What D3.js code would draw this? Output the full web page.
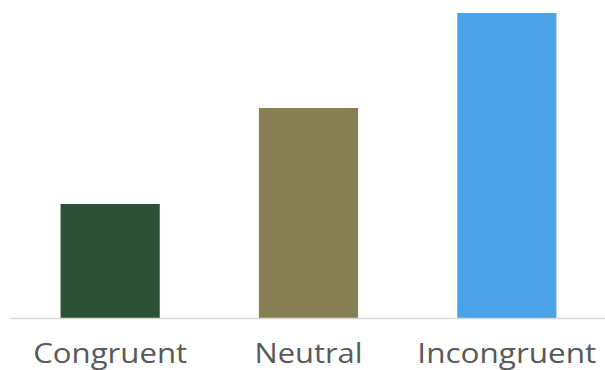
<!DOCTYPE html>
<html>
<head>
<meta charset="utf-8">
<script src="https://cdn.jsdelivr.net/npm/d3@7"></script>
<style>
  html, body { margin: 0; padding: 0; background: #ffffff; }
  svg { display: block; }
</style>
</head>
<body>
<svg id="chart" width="605" height="370"></svg>
<script>
// Conditions and their mean scores
const categories = ["Congruent", "Neutral", "Incongruent"];
const values = [114, 210, 305];
const barColors = ["#2C5136", "#878053", "#4AA2E7"];

const chartWidth = 605, chartHeight = 370;
const baselineY = 318, plotTop = 13;

const svg = d3.select("#chart");

const x = d3.scaleBand()
  .domain(categories)
  .range([11, 606])
  .paddingInner(0.5)
  .paddingOuter(0.25);

const y = d3.scaleLinear()
  .domain([0, d3.max(values)])
  .range([baselineY, plotTop]);

// Bars
svg.append("g")
  .selectAll("rect")
  .data(categories)
  .join("rect")
  .attr("x", d => x(d))
  .attr("width", x.bandwidth())
  .attr("y", (d, i) => y(values[i]))
  .attr("height", (d, i) => baselineY - y(values[i]))
  .attr("fill", (d, i) => barColors[i]);

// Category axis: baseline rule plus labels
const axis = svg.append("g")
  .attr("transform", `translate(0,${baselineY})`)
  .call(d3.axisBottom(x).tickSize(0).tickPadding(0));

axis.select(".domain")
  .attr("d", `M10,0.5H605`)
  .attr("stroke", "#d9d9d9")
  .attr("stroke-width", 1.5);

const labelWidths = { "Congruent": 154, "Neutral": 108, "Incongruent": 179 };

axis.selectAll(".tick text")
  .attr("y", 45)
  .attr("dy", null)
  .attr("fill", "#595959")
  .style("font-family", "'Open Sans', 'Noto Sans', sans-serif")
  .style("font-size", "28px")
  .attr("textLength", d => labelWidths[d])
  .attr("lengthAdjust", "spacingAndGlyphs");
</script>
</body>
</html>
